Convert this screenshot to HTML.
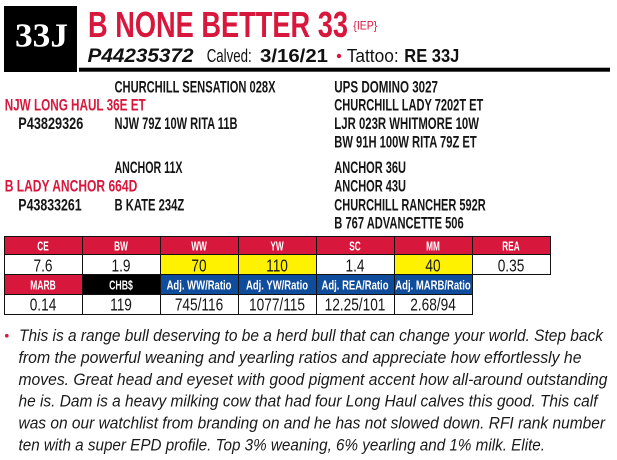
<!DOCTYPE html>
<html>
<head>
<meta charset="utf-8">
<style>
html,body{margin:0;padding:0;background:#fff;}
body{width:617px;height:460px;overflow:hidden;}
svg{display:block;}
text{font-family:"Liberation Sans",Arial,sans-serif;}
.ped{font-size:16.5px;font-weight:bold;fill:#151515;}
.red{fill:#D8173C;}
.desc{font-size:17px;font-style:italic;fill:#1a1a1a;}
.hd{font-size:12.5px;font-weight:bold;fill:#fff;}
.val{font-size:18px;fill:#151515;}
</style>
</head>
<body>
<svg width="617" height="460" viewBox="0 0 617 460" xmlns="http://www.w3.org/2000/svg">
  <rect x="0" y="0" width="617" height="460" fill="#fff"/>

  <!-- header -->
  <rect x="4" y="6" width="73" height="66" fill="#000"/>
  <text x="15" y="46.5" font-weight="bold" font-size="34" fill="#fff" textLength="53" lengthAdjust="spacingAndGlyphs" style="font-family:'Liberation Serif',serif">33J</text>
  <rect x="79" y="67.7" width="531" height="4" fill="#000"/>

  <text x="88" y="37" font-weight="bold" font-size="36" class="red" textLength="260" lengthAdjust="spacingAndGlyphs">B NONE BETTER 33</text>
  <text x="353.3" y="29.5" font-size="12" class="red" textLength="24" lengthAdjust="spacingAndGlyphs">{IEP}</text>

  <text x="87.5" y="62" font-size="19" font-weight="bold" font-style="italic" fill="#111" textLength="106" lengthAdjust="spacingAndGlyphs">P44235372</text>
  <text x="206.7" y="62" font-size="18" fill="#111" textLength="45" lengthAdjust="spacingAndGlyphs">Calved:</text>
  <text x="260" y="62" font-size="18" font-weight="bold" fill="#111" textLength="68" lengthAdjust="spacingAndGlyphs">3/16/21</text>
  <circle cx="339" cy="56" r="2.2" fill="#D8173C"/>
  <text x="346.7" y="62" font-size="18" fill="#111" textLength="52" lengthAdjust="spacingAndGlyphs">Tattoo:</text>
  <text x="404.3" y="62" font-size="18" font-weight="bold" fill="#111" textLength="55" lengthAdjust="spacingAndGlyphs">RE 33J</text>

  <!-- pedigree -->
  <text class="ped" x="114.5" y="92.3" textLength="161" lengthAdjust="spacingAndGlyphs">CHURCHILL SENSATION 028X</text>
  <text class="ped red" x="4.7" y="110.7" textLength="141" lengthAdjust="spacingAndGlyphs">NJW LONG HAUL 36E ET</text>
  <text class="ped" x="18.3" y="129" textLength="65" lengthAdjust="spacingAndGlyphs">P43829326</text>
  <text class="ped" x="114.5" y="129" textLength="123" lengthAdjust="spacingAndGlyphs">NJW 79Z 10W RITA 11B</text>

  <text class="ped" x="114.5" y="172.8" textLength="68" lengthAdjust="spacingAndGlyphs">ANCHOR 11X</text>
  <text class="ped red" x="4.7" y="191.3" textLength="132.6" lengthAdjust="spacingAndGlyphs">B LADY ANCHOR 664D</text>
  <text class="ped" x="18.3" y="210.3" textLength="63.4" lengthAdjust="spacingAndGlyphs">P43833261</text>
  <text class="ped" x="114.5" y="210.3" textLength="69.7" lengthAdjust="spacingAndGlyphs">B KATE 234Z</text>

  <text class="ped" x="334.3" y="92.3" textLength="103.7" lengthAdjust="spacingAndGlyphs">UPS DOMINO 3027</text>
  <text class="ped" x="334.3" y="110.7" textLength="149" lengthAdjust="spacingAndGlyphs">CHURCHILL LADY 7202T ET</text>
  <text class="ped" x="334.3" y="129" textLength="144.7" lengthAdjust="spacingAndGlyphs">LJR 023R WHITMORE 10W</text>
  <text class="ped" x="334.3" y="147.3" textLength="142.4" lengthAdjust="spacingAndGlyphs">BW 91H 100W RITA 79Z ET</text>
  <text class="ped" x="334.3" y="172.8" textLength="71.7" lengthAdjust="spacingAndGlyphs">ANCHOR 36U</text>
  <text class="ped" x="334.3" y="191.3" textLength="71.7" lengthAdjust="spacingAndGlyphs">ANCHOR 43U</text>
  <text class="ped" x="334.3" y="210.3" textLength="151.4" lengthAdjust="spacingAndGlyphs">CHURCHILL RANCHER 592R</text>
  <text class="ped" x="334.3" y="228.3" textLength="129.4" lengthAdjust="spacingAndGlyphs">B 767 ADVANCETTE 506</text>

  <!-- table fills -->
  <rect x="4" y="236" width="546" height="18" fill="#D8173C"/>
  <rect x="160" y="254" width="156" height="21" fill="#FFF200"/>
  <rect x="394" y="254" width="78" height="21" fill="#FFF200"/>
  <rect x="4" y="275" width="78" height="19" fill="#D8173C"/>
  <rect x="82" y="275" width="78" height="19" fill="#000"/>
  <rect x="160" y="275" width="312" height="19" fill="#0F4C9C"/>

  <!-- table grid -->
  <g stroke="#111" stroke-width="1" fill="none">
    <line x1="4" y1="236.5" x2="551" y2="236.5"/>
    <line x1="4" y1="254.5" x2="551" y2="254.5"/>
    <line x1="4" y1="274.5" x2="551" y2="274.5"/>
    <line x1="4" y1="294.5" x2="473" y2="294.5"/>
    <line x1="4" y1="314.5" x2="473" y2="314.5"/>
    <line x1="4.5" y1="236" x2="4.5" y2="315"/>
    <line x1="82.5" y1="236" x2="82.5" y2="315"/>
    <line x1="160.5" y1="236" x2="160.5" y2="315"/>
    <line x1="238.5" y1="236" x2="238.5" y2="315"/>
    <line x1="316.5" y1="236" x2="316.5" y2="315"/>
    <line x1="394.5" y1="236" x2="394.5" y2="315"/>
    <line x1="472.5" y1="236" x2="472.5" y2="315"/>
    <line x1="550.5" y1="236" x2="550.5" y2="275"/>
  </g>

  <!-- header row 1 -->
  <g class="hd" text-anchor="middle">
    <text transform="translate(43 250.5) scale(0.66 1)">CE</text>
    <text transform="translate(121 250.5) scale(0.66 1)">BW</text>
    <text transform="translate(199 250.5) scale(0.66 1)">WW</text>
    <text transform="translate(277 250.5) scale(0.66 1)">YW</text>
    <text transform="translate(355 250.5) scale(0.66 1)">SC</text>
    <text transform="translate(433 250.5) scale(0.66 1)">MM</text>
    <text transform="translate(511 250.5) scale(0.66 1)">REA</text>
  </g>
  <!-- values row 1 -->
  <g class="val" text-anchor="middle">
    <text transform="translate(43 271.5) scale(0.76 1)">7.6</text>
    <text transform="translate(121 271.5) scale(0.76 1)">1.9</text>
    <text transform="translate(199 271.5) scale(0.76 1)">70</text>
    <text transform="translate(277 271.5) scale(0.76 1)">110</text>
    <text transform="translate(355 271.5) scale(0.76 1)">1.4</text>
    <text transform="translate(433 271.5) scale(0.76 1)">40</text>
    <text transform="translate(511 271.5) scale(0.76 1)">0.35</text>
  </g>
  <!-- header row 2 -->
  <g class="hd" text-anchor="middle">
    <text transform="translate(43 289.6) scale(0.68 1)">MARB</text>
    <text transform="translate(121 289.6) scale(0.7 1)">CHB$</text>
    <text transform="translate(199 289.6) scale(0.76 1)">Adj. WW/Ratio</text>
    <text transform="translate(277 289.6) scale(0.76 1)">Adj. YW/Ratio</text>
    <text transform="translate(355 289.6) scale(0.76 1)">Adj. REA/Ratio</text>
    <text transform="translate(433 289.6) scale(0.76 1)">Adj. MARB/Ratio</text>
  </g>
  <!-- values row 2 -->
  <g class="val" text-anchor="middle">
    <text transform="translate(43 310.6) scale(0.76 1)">0.14</text>
    <text transform="translate(121 310.6) scale(0.76 1)">119</text>
    <text transform="translate(199 310.6) scale(0.76 1)">745/116</text>
    <text transform="translate(277 310.6) scale(0.76 1)">1077/115</text>
    <text transform="translate(355 310.6) scale(0.76 1)">12.25/101</text>
    <text transform="translate(433 310.6) scale(0.76 1)">2.68/94</text>
  </g>

  <!-- description -->
  <circle cx="6.8" cy="335.7" r="1.8" fill="#D8173C"/>
  <text class="desc" x="19" y="341" textLength="584" lengthAdjust="spacingAndGlyphs">This is a range bull deserving to be a herd bull that can change your world. Step back</text>
  <text class="desc" x="18.5" y="362.9" textLength="563" lengthAdjust="spacingAndGlyphs">from the powerful weaning and yearling ratios and appreciate how effortlessly he</text>
  <text class="desc" x="18.5" y="384.8" textLength="589" lengthAdjust="spacingAndGlyphs">moves. Great head and eyeset with good pigment accent how all-around outstanding</text>
  <text class="desc" x="18.5" y="406.7" textLength="579" lengthAdjust="spacingAndGlyphs">he is. Dam is a heavy milking cow that had four Long Haul calves this good. This calf</text>
  <text class="desc" x="18.5" y="428.6" textLength="586.5" lengthAdjust="spacingAndGlyphs">was on our watchlist from branding on and he has not slowed down. RFI rank number</text>
  <text class="desc" x="18.5" y="450.5" textLength="526.5" lengthAdjust="spacingAndGlyphs">ten with a super EPD profile. Top 3% weaning, 6% yearling and 1% milk. Elite.</text>
</svg>
</body>
</html>
